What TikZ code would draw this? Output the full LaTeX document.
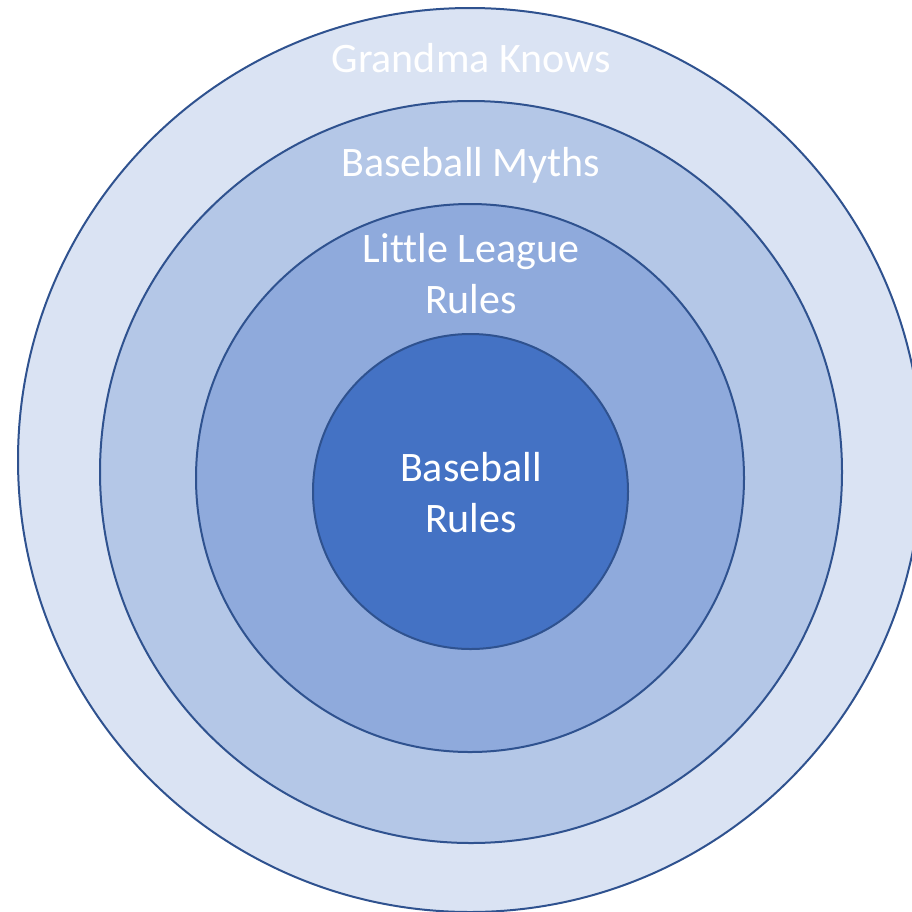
\documentclass[tikz,border=0pt]{standalone}
\usepackage{fontspec}
\setmainfont{Carlito}[Ligatures=NoCommon]
\definecolor{ringA}{HTML}{DAE3F3}
\definecolor{ringB}{HTML}{B4C7E7}
\definecolor{ringC}{HTML}{8FAADC}
\definecolor{ringD}{HTML}{4472C4}
\definecolor{ringline}{HTML}{2F528F}
\tikzset{
  ring/.style={circle, draw=ringline, line width=2pt, inner sep=0pt, outer sep=0pt},
  lbl/.style={anchor=base, text=white, inner sep=0pt, font=\fontsize{42}{51}\selectfont}
}
\begin{document}
\begin{tikzpicture}[x=1pt,y=-1pt]
\useasboundingbox (0,0) rectangle (912,911);
\clip (0,0) rectangle (912,911);
\node[ring, fill=ringA, minimum size=904pt] (r1) at (470,460) {};
\node[ring, fill=ringB, minimum size=742pt] (r2) at (471,472) {};
\node[ring, fill=ringC, minimum size=548pt] (r3) at (470,478) {};
\node[ring, fill=ringD, minimum size=315pt] (r4) at (470.5,491.5) {};
\node[lbl] (t1) at (471,72) {Grandma Knows};
\node[lbl] (t2) at (471,176) {Baseball Myths};
\node[lbl] (t3a) at (471,262) {Little League};
\node[lbl] (t3b) at (471,313) {Rules};
\node[lbl] (t4a) at (471,481) {Baseball};
\node[lbl] (t4b) at (471,532) {Rules};
\end{tikzpicture}
\end{document}
